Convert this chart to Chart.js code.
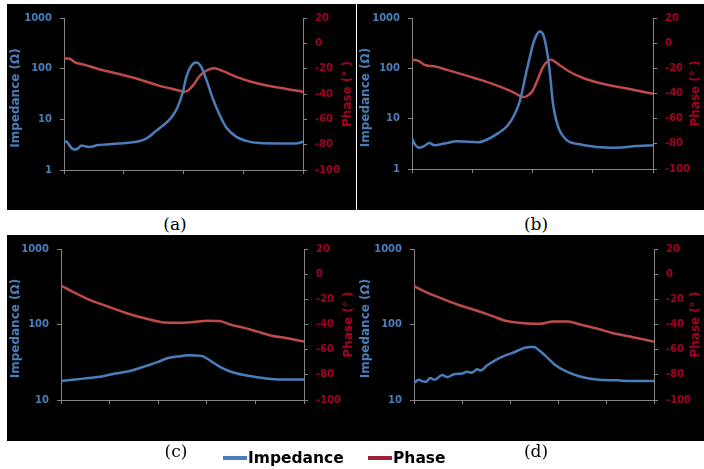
<!DOCTYPE html>
<html>
<head>
<meta charset="utf-8">
<script src="https://cdn.jsdelivr.net/npm/chart.js@4.4.1/dist/chart.umd.min.js"></script>
<style>
    body { margin: 0; width: 704px; height: 469px; background: #fff; position: relative; overflow: hidden; }
    .panel { position: absolute; background: #000; }
    .caption { position: absolute; width: 60px; margin-left: -30px; text-align: center; font: 17px "DejaVu Serif", serif; color: #000; line-height: 22px; }
    .key { position: absolute; top: 456px; height: 4px; width: 24px; }
    .keyText { position: absolute; top: 448px; font: bold 15.5px "DejaVu Sans", sans-serif; color: #000; line-height: 20px; }
</style>
</head>
<body>
<canvas id="chartA" class="panel" width="349" height="206" style="left:7px;top:4px"></canvas>
<canvas id="chartB" class="panel" width="347" height="206" style="left:357px;top:4px"></canvas>
<canvas id="chartC" class="panel" width="350" height="206" style="left:7px;top:235px"></canvas>
<canvas id="chartD" class="panel" width="347" height="206" style="left:357px;top:235px"></canvas>

<div class="caption" style="left:175px;top:213px">(a)</div>
<div class="caption" style="left:536px;top:213px">(b)</div>
<div class="caption" style="left:176px;top:440px">(c)</div>
<div class="caption" style="left:536px;top:440px">(d)</div>

<div class="key" style="left:223px;background:#4A7EBB"></div>
<div class="keyText" style="left:248px">Impedance</div>
<div class="key" style="left:368px;background:#A0203A"></div>
<div class="keyText" style="left:393px">Phase</div>

<script>
// x is the position along the (unlabelled) frequency axis, 0..100
const impAx = [0, 1, 2, 3, 4.2, 5.5, 7.4, 8.8, 10.5, 14.3, 18, 22.6, 27, 31, 33.7, 36, 37.9, 40, 42.1, 44.8, 46.5, 47.6, 49.7, 51.2, 53.3, 55.4, 57.5, 59.6, 62.3, 65.1, 67.9, 72.1, 76.2, 81.8, 90, 97, 100];
const impAy = [3.5, 3.65, 3.2, 2.75, 2.55, 2.6, 3.05, 2.95, 2.86, 3.1, 3.2, 3.35, 3.45, 3.65, 4.0, 4.7, 5.6, 6.7, 8.0, 10.7, 14, 17.8, 34, 69, 115, 133, 107, 60, 25.5, 12.3, 6.9, 4.5, 3.76, 3.4, 3.35, 3.35, 3.6];
const phaseAx = [0, 2, 4.6, 8.7, 14.3, 22.6, 31, 39.3, 44.8, 49, 50.5, 52, 54, 56.8, 59.6, 63, 66.5, 72.1, 79, 86, 92.9, 100];
const phaseAy = [-12, -12, -15, -17, -20.2, -24, -28.2, -33.2, -35.7, -37.7, -38.2, -37, -33.2, -25.7, -21.5, -19.7, -22, -26.5, -30.7, -33.7, -36, -38.2];

const impBx = [0, 1, 3.1, 5.1, 7.2, 9.3, 13.4, 19, 27.3, 31.4, 35.6, 39.7, 42.5, 44.6, 45.9, 47.2, 48.8, 50.2, 51.6, 53, 54.4, 55.8, 57.1, 58.5, 60.6, 64.1, 69.6, 76.5, 84.8, 93.1, 100];
const impBy = [4.1, 3.2, 2.65, 2.85, 3.3, 2.95, 3.2, 3.54, 3.4, 3.9, 5.1, 7.3, 12, 21.4, 38, 75, 160, 300, 450, 540, 470, 250, 90, 20, 7, 3.8, 3.1, 2.75, 2.65, 2.85, 2.98];
const phaseBx = [0, 2.4, 5.8, 9.3, 14.8, 20.3, 25.9, 32.8, 38.3, 42.5, 45.9, 47.2, 48.8, 50.1, 51.6, 54.4, 56.5, 57.8, 59.5, 61.3, 65.4, 71, 76.5, 83.4, 90.3, 100];
const phaseBy = [-13.1, -13.9, -17.6, -18.4, -21.4, -24.4, -27.7, -32, -36, -39.5, -42.7, -42.5, -40.5, -37.8, -31.4, -18.9, -14, -13.2, -15, -17.6, -22.7, -27.7, -31, -34, -36.5, -40.2];

const impCx = [0, 5.9, 11.3, 16.8, 22.3, 29.1, 34.5, 40, 44.1, 48.9, 52.2, 57.6, 61.7, 65.8, 69.9, 75.4, 80.9, 86.3, 93.2, 100];
const impCy = [17.8, 18.7, 19.5, 20.5, 22.4, 24.6, 27.9, 32, 36, 38, 39, 38.4, 32.8, 27, 23.7, 21.4, 20, 19, 18.7, 18.7];
const phaseCx = [0, 5.9, 11.3, 16.8, 22.3, 27.7, 33.2, 38.6, 42.7, 48.9, 53.5, 60.4, 65.2, 69.9, 75.4, 80.9, 86.3, 93.2, 100];
const phaseCy = [-9, -15, -20, -24, -27.8, -31.5, -34.5, -37, -38.5, -38.7, -38.3, -37, -37.3, -40.2, -42.7, -45.7, -48.7, -51, -53.5];

const impDx = [0, 2, 3.3, 5, 6.8, 8.6, 11.7, 13.8, 16.6, 20, 22.1, 24.2, 26.3, 27.7, 30.5, 34, 38.1, 42.3, 46.5, 48.3, 50, 51, 54.6, 58.7, 63.6, 69.1, 76.1, 84.4, 92.8, 100];
const impDy = [16.8, 18.5, 17.8, 17.5, 19.5, 18.5, 21.5, 20, 22, 22.4, 23.7, 23, 25.6, 24.6, 28.8, 33.8, 39, 43.6, 49.6, 50.5, 50.5, 48.5, 39, 29.3, 23.7, 20.5, 18.7, 18.2, 17.8, 17.8];
const phaseDx = [0, 4.8, 11.7, 18.6, 25.6, 32.5, 38.1, 43.7, 49.9, 52.3, 58, 64.2, 69.1, 76.1, 83, 90, 100];
const phaseDy = [-9.5, -14, -19.5, -24.5, -28.7, -33.2, -37, -38.7, -39.5, -39.5, -37.7, -37.7, -40, -43.2, -47, -49.5, -53.7];

// axis tick labels
const impTicksAB = [1, 10, 100, 1000];
const impTicksCD = [10, 100, 1000];
const phaseTicks = [-100, -80, -60, -40, -20, 0, 20];

const BLUE = '#4A7EBB';
const BLUE_TEXT = '#4A7EBB';
const RED = '#BE4B48';
const RED_TEXT = '#A50021';
const AXIS = '#868686';

document.addEventListener('DOMContentLoaded', function() {
    drawPanel('chartA', impAx, impAy, phaseAx, phaseAy, impTicksAB, 25, { left: 57, right: 296, top: 6, bottom: 166 });
    drawPanel('chartB', impBx, impBy, phaseBx, phaseBy, impTicksAB, 25, { left: 55, right: 296, top: 5, bottom: 165 });
    drawPanel('chartC', impCx, impCy, phaseCx, phaseCy, impTicksCD, 20, { left: 54, right: 297, top: 5, bottom: 165 });
    drawPanel('chartD', impDx, impDy, phaseDx, phaseDy, impTicksCD, 20, { left: 57, right: 297, top: 6, bottom: 165 });
});

function toPoints(xs, ys) {
    return xs.map((x, i) => ({ x: x, y: ys[i] }));
}

// rotated axis titles, both reading bottom to top
const axisTitles = {
    id: 'axisTitles',
    afterDraw(chart) {
        const ctx = chart.ctx;
        const mid = (chart.chartArea.top + chart.chartArea.bottom) / 2;
        ctx.save();
        ctx.font = 'bold 12px "DejaVu Sans", sans-serif';
        ctx.textAlign = 'center';
        ctx.textBaseline = 'middle';
        ctx.translate(9, mid + 4);
        ctx.rotate(-Math.PI / 2);
        ctx.fillStyle = BLUE_TEXT;
        ctx.fillText('Impedance (\u03A9)', 0, 0);
        ctx.restore();
        ctx.save();
        ctx.font = 'bold 12px "DejaVu Sans", sans-serif';
        ctx.textAlign = 'center';
        ctx.textBaseline = 'middle';
        ctx.translate(chart.width - 8, mid);
        ctx.rotate(-Math.PI / 2);
        ctx.fillStyle = RED_TEXT;
        ctx.fillText('Phase (\u00B0 )', 0, 0);
        ctx.restore();
    }
};

function drawPanel(id, impX, impY, phX, phY, impTicks, xStep, area) {
    const canvas = document.getElementById(id);
    const W = canvas.width;
    const H = canvas.height;
    const tickFont = { family: '"DejaVu Sans", sans-serif', size: 10, weight: 'bold' };

    new Chart(canvas.getContext('2d'), {
        type: 'line',
        data: {
            datasets: [{
                label: 'Impedance',
                data: toPoints(impX, impY),
                yAxisID: 'y',
                borderColor: BLUE,
                borderWidth: 2.5,
                pointRadius: 0,
                cubicInterpolationMode: 'monotone'
            }, {
                label: 'Phase',
                data: toPoints(phX, phY),
                yAxisID: 'y1',
                borderColor: RED,
                borderWidth: 2.5,
                pointRadius: 0,
                cubicInterpolationMode: 'monotone'
            }]
        },
        options: {
            responsive: false,
            animation: false,
            devicePixelRatio: 1,
            layout: { padding: { top: area.top, left: 0, right: 0, bottom: 0 } },
            plugins: { legend: { display: false }, tooltip: { enabled: false } },
            scales: {
                x: {
                    type: 'linear',
                    min: 0,
                    max: 100,
                    ticks: { stepSize: xStep, display: false },
                    grid: { drawOnChartArea: false, drawTicks: true, tickLength: 4, color: AXIS },
                    border: { display: true, color: AXIS },
                    afterFit: function(scale) { scale.height = H - area.bottom; }
                },
                y: {
                    type: 'logarithmic',
                    position: 'left',
                    min: impTicks[0],
                    max: impTicks[impTicks.length - 1],
                    afterBuildTicks: function(scale) { scale.ticks = impTicks.map(v => ({ value: v })); },
                    ticks: { color: BLUE_TEXT, font: tickFont, padding: 8, callback: v => String(v) },
                    grid: { drawOnChartArea: false, drawTicks: true, tickLength: 4, color: AXIS },
                    border: { display: true, color: AXIS },
                    afterFit: function(scale) { scale.width = area.left; }
                },
                y1: {
                    type: 'linear',
                    position: 'right',
                    min: phaseTicks[0],
                    max: phaseTicks[phaseTicks.length - 1],
                    afterBuildTicks: function(scale) { scale.ticks = phaseTicks.map(v => ({ value: v })); },
                    ticks: { color: RED_TEXT, font: tickFont, padding: 8 },
                    grid: { drawOnChartArea: false, drawTicks: true, tickLength: 4, color: AXIS },
                    border: { display: true, color: AXIS },
                    afterFit: function(scale) { scale.width = W - area.right; }
                }
            }
        },
        plugins: [axisTitles]
    });
}
</script>
</body>
</html>
